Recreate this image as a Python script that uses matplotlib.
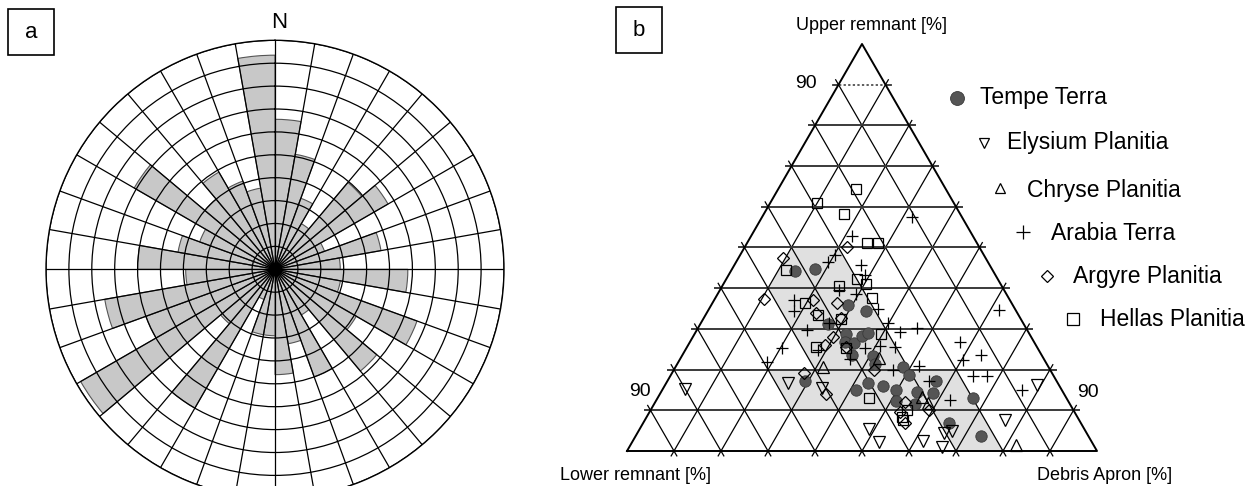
import matplotlib.pyplot as plt
import numpy as np
from matplotlib.patches import Rectangle, Polygon

plt.rcParams['font.family'] = ['Liberation Sans', 'DejaVu Sans']

# (a) rose diagram: length of each 10 degree sector, clockwise from north
sector_start = np.arange(0, 360, 10)
sector_length = [6.55, 5.1, 3.3, 2.3, 4.95, 5.7, 2.3, 4.7, 2.85, 5.8, 2.9, 6.6,
                 4.1, 5.8, 2.3, 5.0, 3.3, 4.6, 2.9, 2.9, 1.4, 7.0, 3.1, 9.8,
                 6.0, 7.55, 3.9, 6.0, 4.3, 3.5, 7.1, 4.0, 4.9, 4.1, 3.6, 9.35]

# (b) ternary compositions in percent (upper remnant, debris apron; lower = rest)
tempe_upper = [44.1, 44.6, 35.9, 34.3, 31.2, 28.7, 26.8, 26.5, 28.3, 28.9, 23.5, 23.3, 21.4, 17.2,
               15.0, 16.6, 16.0, 15.0, 20.7, 18.7, 17.3, 14.6, 14.2, 12.4, 11.6, 12.9, 6.9, 3.8]
tempe_debris = [13.7, 17.7, 29.0, 33.6, 27.2, 32.2, 33.0, 35.0, 35.9, 36.9, 36.2, 40.6, 42.1, 29.3,
                41.2, 43.0, 46.5, 49.7, 48.3, 50.7, 57.2, 54.3, 58.1, 51.1, 55.4, 67.1, 65.1, 73.4]

elysium_upper = [15.2, 16.8, 15.4, 5.3, 2.3, 2.5, 1.0, 4.5, 4.8, 7.6, 16.2]
elysium_debris = [4.8, 25.9, 33.8, 48.8, 52.5, 61.8, 66.6, 65.1, 66.7, 76.6, 79.1]

chryse_upper = [20.6, 22.9, 13.3, 11.8, 1.4]
chryse_debris = [31.3, 42.2, 56.1, 58.2, 82.1]

arabia_upper = [52.9, 57.6, 46.5, 48.2, 45.6, 43.2, 38.6, 34.9, 37.2, 34.4, 29.7, 25.4, 21.9, 24.8,
                31.4, 39.6, 31.4, 29.3, 30.1, 25.2, 25.8, 25.6, 22.6, 19.8, 20.9, 17.1, 12.5, 26.7,
                22.4, 23.6, 18.4, 18.4, 14.9, 34.6]
arabia_debris = [21.5, 31.9, 19.6, 20.2, 26.9, 29.0, 29.4, 36.0, 16.9, 18.3, 23.5, 20.2, 18.9, 28.3,
                 27.3, 25.4, 39.8, 43.5, 46.7, 38.0, 40.9, 44.2, 36.1, 46.6, 51.6, 55.8, 62.4, 57.5,
                 60.2, 63.6, 64.5, 67.3, 76.5, 61.8]

argyre_upper = [50.1, 47.3, 37.3, 37.1, 36.4, 33.8, 32.7, 28.0, 26.0, 20.0, 19.2, 14.1, 10.1, 12.1,
                9.5, 6.9, 25.6]
argyre_debris = [21.7, 9.6, 10.5, 21.1, 26.5, 23.4, 29.2, 29.9, 29.1, 42.6, 28.1, 35.2, 59.1, 53.1,
                 53.4, 55.6, 33.7]

hellas_upper = [64.4, 61.0, 58.2, 51.2, 51.0, 44.5, 42.2, 41.0, 40.5, 37.5, 36.4, 33.3, 32.5, 28.7,
                25.6, 25.4, 13.1, 10.1, 8.4, 7.5]
hellas_debris = [16.5, 10.0, 17.1, 25.5, 28.0, 11.5, 27.9, 30.3, 24.9, 33.3, 19.7, 23.9, 29.3, 39.7,
                 27.5, 34.0, 45.0, 54.5, 54.4, 55.0]

# outline of the shaded field
zone_upper = [50, 50, 20, 20, 0, 0, 10, 10, 20, 20, 40]
zone_debris = [10, 20, 50, 60, 80, 70, 60, 30, 20, 30, 10]

regions = ['Tempe Terra', 'Elysium Planitia', 'Chryse Planitia',
           'Arabia Terra', 'Argyre Planitia', 'Hellas Planitia']

W, Hpx = 1260, 486
fig = plt.figure(figsize=(W / 100, Hpx / 100), dpi=100)


def fig_xy(px, py):
    return px / W, 1 - py / Hpx


# ---- rose diagram ----
cx, cy, rad = 275, 269.3, 229
ax1 = fig.add_axes([(cx - rad) / W, (Hpx - cy - rad) / Hpx, 2 * rad / W, 2 * rad / Hpx],
                   projection='polar')
ax1.set_theta_zero_location('N')
ax1.set_theta_direction(-1)
ax1.bar(np.deg2rad(sector_start), sector_length, width=np.deg2rad(10), align='edge',
        color='#c8c8c8', edgecolor='#555555', linewidth=0.8, zorder=1)
ax1.set_ylim(0, 10)
ax1.set_xticks(np.deg2rad(np.arange(0, 360, 10)))
ax1.set_xticklabels([])
ax1.set_yticks(np.arange(1, 11))
ax1.set_yticklabels([])
ax1.grid(True, color='black', linewidth=0.9)
ax1.set_axisbelow(False)
ax1.spines['polar'].set_linewidth(1.0)
ax1.plot(0, 0, 'o', color='black', ms=9, zorder=5)
ax1.tick_params(length=0)

fig.text(*fig_xy(279, 23), 'N', ha='center', va='center', fontsize=16)

# ---- ternary diagram ----
H = np.sqrt(3) / 2
x0, ybase, scale = 627, 451, 470
ax2 = fig.add_axes([540 / W, 0, 720 / W, 1])
ax2.set_xlim((540 - x0) / scale, (W - x0) / scale)
ax2.set_ylim(-(Hpx - ybase) / scale, ybase / scale)
ax2.axis('off')


def tern(upper, debris):
    u = np.asarray(upper, dtype=float) / 100
    d = np.asarray(debris, dtype=float) / 100
    return d + u / 2, u * H


def extend(p0, p1, e=0.012):
    p0, p1 = np.array(p0), np.array(p1)
    v = (p1 - p0) / np.linalg.norm(p1 - p0)
    return p0 - e * v, p1 + e * v


zx, zy = tern(zone_upper, zone_debris)
ax2.add_patch(Polygon(np.column_stack([zx, zy]), closed=True, facecolor='#e0e0e0',
                      edgecolor='none', zorder=0))

for k in range(1, 10):
    f = k * 10
    lines = [
        (tern(f, 0), tern(f, 100 - f), 'h'),
        (tern(0, f), tern(100 - f, f), 'd'),
        (tern(0, 100 - f), tern(100 - f, 0), 'd'),
    ]
    for p0, p1, kind in lines:
        q0, q1 = extend(p0, p1)
        if kind == 'h':
            if f == 90:
                ax2.plot([q0[0], p0[0]], [q0[1], p0[1]], color='#333333', lw=1.3, zorder=1)
                ax2.plot([p1[0], q1[0]], [p1[1], q1[1]], color='#333333', lw=1.3, zorder=1)
                ax2.plot([p0[0], p1[0]], [p0[1], p1[1]], color='#333333', lw=1.1,
                         ls=(0, (1.5, 1.5)), zorder=1)
            else:
                ax2.plot([q0[0], q1[0]], [q0[1], q1[1]], color='#3a3a3a', lw=1.4, zorder=1)
        else:
            ax2.plot([q0[0], q1[0]], [q0[1], q1[1]], color='black', lw=0.9, zorder=1)

ax2.plot([0, 1, 0.5, 0], [0, 0, H, 0], color='black', lw=1.4, zorder=2)

styles = [
    dict(marker='o', ms=8.2, mfc='#555555', mec='#3a3a3a', mew=0.6),
    dict(marker='v', ms=8, mfc='none', mec='black', mew=0.9),
    dict(marker='^', ms=8, mfc='none', mec='black', mew=0.9),
    dict(marker='+', ms=9, mec='black', mew=0.9),
    dict(marker='D', ms=6, mfc='none', mec='black', mew=0.9),
    dict(marker='s', ms=7.8, mfc='none', mec='black', mew=0.9),
]
series = [(tempe_upper, tempe_debris), (elysium_upper, elysium_debris),
          (chryse_upper, chryse_debris), (arabia_upper, arabia_debris),
          (argyre_upper, argyre_debris), (hellas_upper, hellas_debris)]
for (up, deb), st in zip(series, styles):
    px, py = tern(up, deb)
    ax2.plot(px, py, ls='none', zorder=3, **st)

# staircase legend
legend_marker_px = [(957, 98), (984, 143), (1000, 188), (1023, 232), (1047, 276), (1073, 319)]
legend_text_px = [(980, 97), (1007, 142), (1027, 190), (1051, 234), (1073, 277), (1100, 319)]
legend_ms = [10, 7.5, 7.5, 10, 6.5, 8.5]
for name, st, (mx, my), (tx, ty), ms in zip(regions, styles, legend_marker_px,
                                           legend_text_px, legend_ms):
    st = dict(st, ms=ms)
    ax2.plot(*fig_xy(mx, my), transform=fig.transFigure, clip_on=False, ls='none', **st)
    fig.text(*fig_xy(tx, ty), name, ha='left', va='center', fontsize=16.5)

fig.text(*fig_xy(871, 25), 'Upper remnant [%]', ha='center', va='center', fontsize=13)
fig.text(*fig_xy(711, 475), 'Lower remnant [%]', ha='right', va='center', fontsize=13)
fig.text(*fig_xy(1037, 475), 'Debris Apron [%]', ha='left', va='center', fontsize=13)
fig.text(*fig_xy(806, 84), '90', ha='center', va='center', fontsize=14)
fig.text(*fig_xy(640, 391), '90', ha='center', va='center', fontsize=14)
fig.text(*fig_xy(1088, 392), '90', ha='center', va='center', fontsize=14)

# panel letters
for letter, (bx, by) in [('a', (8, 9)), ('b', (616, 7))]:
    fig.add_artist(Rectangle(fig_xy(bx, by + 46), 46 / W, 46 / Hpx, transform=fig.transFigure,
                             fill=False, edgecolor='black', lw=1.2))
    fig.text(*fig_xy(bx + 23, by + 23), letter, ha='center', va='center', fontsize=16)

fig.savefig('out.png', dpi=100)
